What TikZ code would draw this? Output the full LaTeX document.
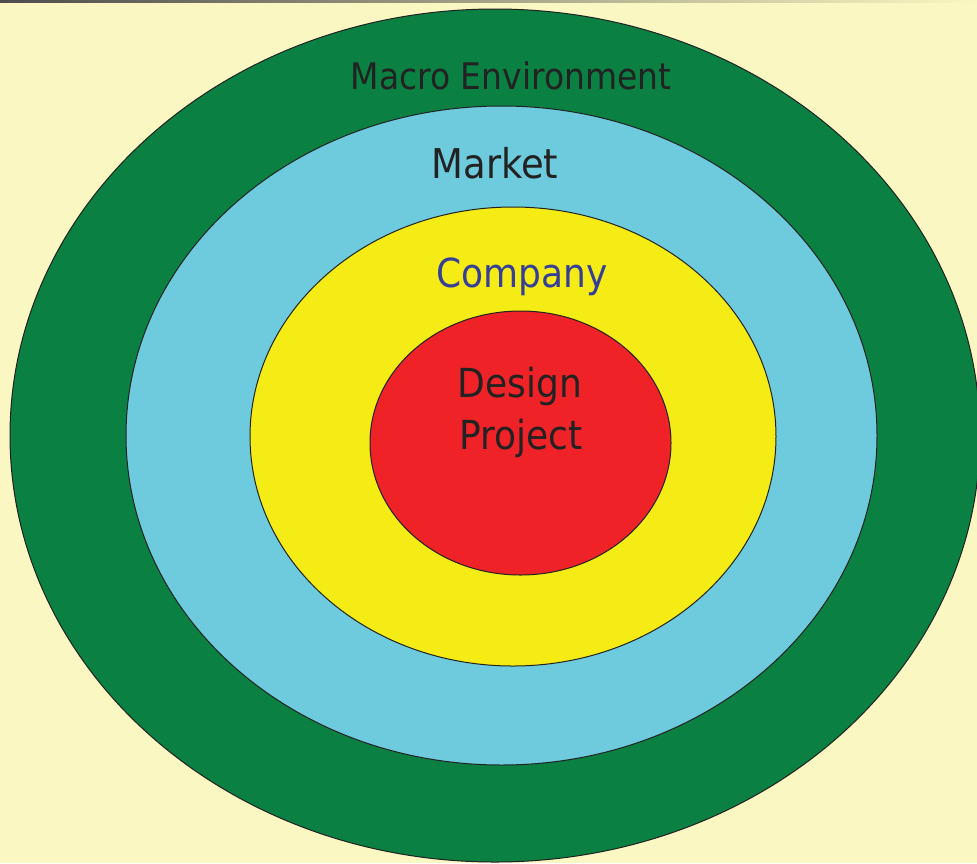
\documentclass[tikz,border=0pt]{standalone}
\usepackage{fontspec}
\setmainfont{DejaVu Sans}[FakeStretch=0.9]
\definecolor{bgc}{HTML}{FBF7C2}
\definecolor{greenc}{HTML}{0A8042}
\definecolor{cyanc}{HTML}{6DCBDD}
\definecolor{yellowc}{HTML}{F5EB15}
\definecolor{redc}{HTML}{EE2227}
\definecolor{textc}{HTML}{222222}
\definecolor{bluec}{HTML}{353F98}
\begin{document}
\begin{tikzpicture}[x=1pt,y=-1pt,
  ring/.style={draw=textc,line width=1pt},
  lbl/.style={anchor=base,inner sep=0pt,text=textc}]
\useasboundingbox (0,0) rectangle (977,863);
\fill[bgc] (0,0) rectangle (977,863);
\shade[left color=black!70, right color=bgc] (0,0) rectangle (977,2.5);
\begin{scope}
\clip (0,2.5) rectangle (977,863);
\draw[ring,fill=greenc] (495,435.5) ellipse [x radius=485pt, y radius=426.5pt];
\draw[ring,fill=cyanc] (501.5,435.5) ellipse [x radius=375.5pt, y radius=329.5pt];
\draw[ring,fill=yellowc] (513,436.5) ellipse [x radius=263pt, y radius=229.5pt];
\draw[ring,fill=redc] (520.5,443) ellipse [x radius=150.5pt, y radius=132pt];
\end{scope}
\node[lbl,font=\fontsize{36.6}{44}\selectfont] (macro) at (511,89) {Macro Environment};
\node[lbl,font=\fontsize{41}{49}\selectfont] (market) at (495,178) {Market};
\node[lbl,font=\fontsize{40}{48}\selectfont,text=bluec] (company) at (522,287) {Company};
\node[lbl,font=\fontsize{40}{48}\selectfont] (design) at (520,397) {Design};
\node[lbl,font=\fontsize{40}{48}\selectfont] (project) at (521,449) {Project};
\end{tikzpicture}
\end{document}
